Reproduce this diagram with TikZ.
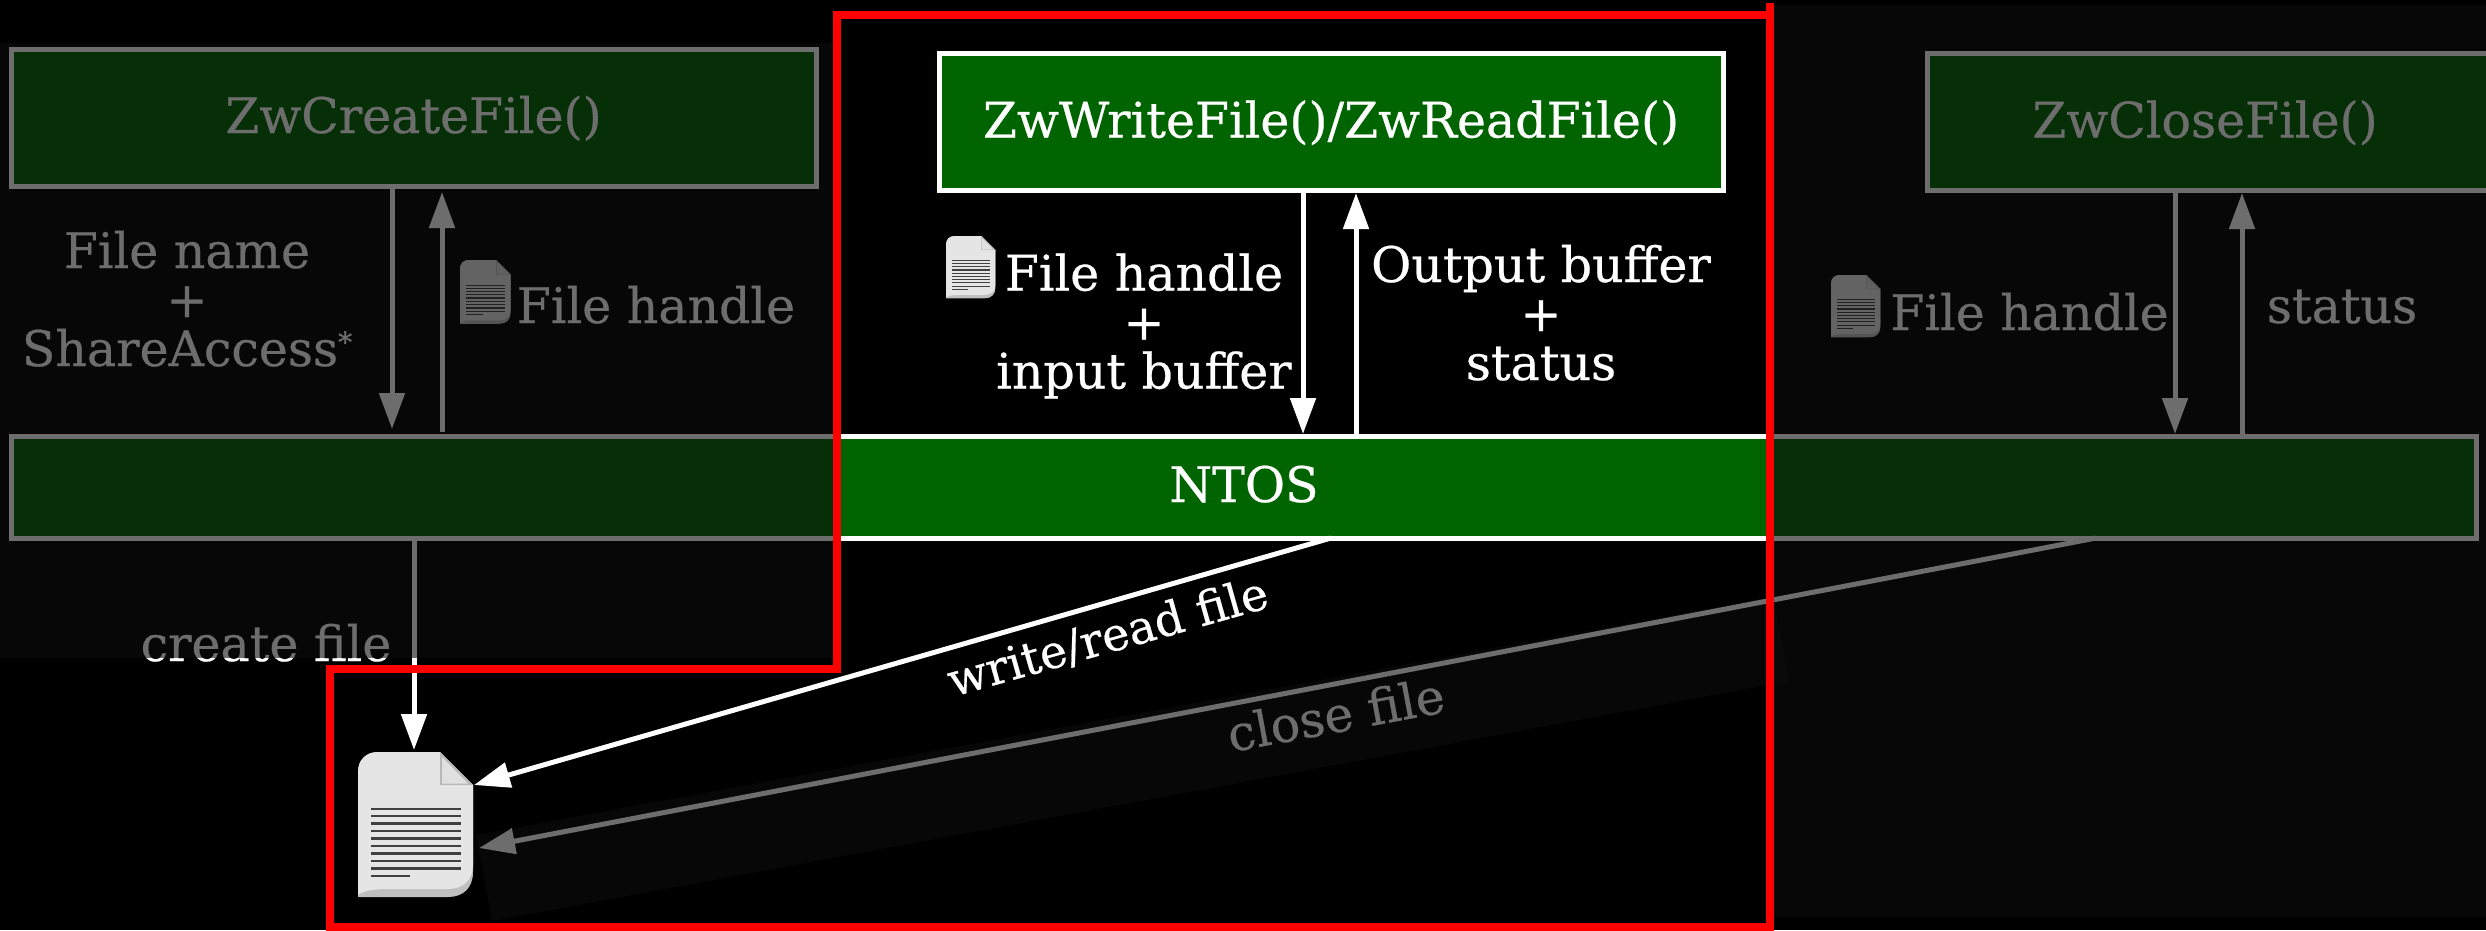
\documentclass[tikz,border=0pt]{standalone}
\usepackage{fontspec}
\setmainfont[FakeBold=0.5]{DejaVu Serif}
\usetikzlibrary{arrows.meta,calc}
\definecolor{nsgreen}{HTML}{006400}
\definecolor{veil}{HTML}{0D0D0D}
\definecolor{redframe}{HTML}{FF0000}
\tikzset{
  big/.style={font=\fontsize{49}{49}\selectfont\addfontfeature{FakeBold=0.5}},
  box/.style={draw=white,fill=nsgreen,line width=5pt,inner sep=0pt,outer sep=0pt,text=white,big,text height=42pt,text depth=11pt,anchor=north west},
  lbl/.style={text=white,big,inner sep=0pt,outer sep=0pt,anchor=base},
  multi/.style={lbl,align=center},
  flow/.style={draw=white,line width=5pt,-{Triangle[length=36pt,width=25pt,sep=0pt]}},
  overlay panel/.style={fill=veil,fill opacity=.6,draw=none},
}
\newcommand{\fileicon}[3]{%
  \begin{scope}[shift={(#1,#2)},scale=#3]
    \fill[black!25] (0,20) .. controls (0,8) and (8,0) .. (20,0) -- (82,0) -- (115,33) -- (115,120)
       .. controls (115,136) and (105,145) .. (90,145) -- (0,145) -- cycle;
    \fill[black!10] (0,20) .. controls (0,8) and (8,0) .. (20,0) -- (82,0) -- (115,33) -- (115,113)
       .. controls (115,128) and (105,137) .. (90,137) -- (30,137) .. controls (15,137) and (5,139) .. (0,143) -- cycle;
    \fill[black!28] (82,0) -- (115,33) -- (82,33) -- cycle;
    \fill[black!12] (84,5) -- (110,31.5) -- (84,31.5) -- cycle;
    \foreach \ly in {57,64,71.5,79,86.5,94,101.5,109,116.5}{
      \fill[black!75] (13,\ly-1.3) rectangle (103,\ly+1.3);
    }
    \fill[black!75] (13,122.7) rectangle (52,125.3);
  \end{scope}}
\begin{document}
\begin{tikzpicture}[x=1pt,y=-1pt]
  \useasboundingbox (0,0) rectangle (2486,930);
  \fill[black] (0,0) rectangle (2486,930);

  % boxes
  \node[box,minimum width=805pt,minimum height=137pt] (create) at (11,49) {ZwCreateFile()};
  \node[box,minimum width=784pt,minimum height=137pt] (rw) at (939,53.5) {ZwWriteFile()/ZwReadFile()};
  \node[box,minimum width=566pt,minimum height=137pt] (close) at (1927,53.5) {\hspace*{-10pt}ZwCloseFile()};
  \node[box,minimum width=2465pt,minimum height=102pt] (bus) at (11,436) {};
  \node[lbl] (ntoslabel) at (1244,502) {NTOS};

  % x positions and file end points
  \coordinate (xa) at (392,0);
  \coordinate (xb) at (442,0);
  \coordinate (xc) at (1303,0);
  \coordinate (xd) at (1356,0);
  \coordinate (xe) at (2175,0);
  \coordinate (xf) at (2242,0);
  \coordinate (xg) at (414,0);
  \coordinate (xh) at (1331,0);
  \coordinate (xi) at (2096,0);
  \coordinate (filetop) at (414,750);
  \coordinate (filefold) at (474,785);
  \coordinate (fileside) at (479,848);

  % connectors
  \draw[flow,shorten >=7pt] (create.south -| xa) -- (bus.north -| xa);
  \draw[flow,shorten <=4pt,shorten >=6pt] (bus.north -| xb) -- (create.south -| xb);
  \draw[flow,shorten >=2pt] (rw.south -| xc) -- (bus.north -| xc);
  \draw[flow,shorten >=2.5pt] (bus.north -| xd) -- (rw.south -| xd);
  \draw[flow,shorten >=2pt] (close.south -| xe) -- (bus.north -| xe);
  \draw[flow,shorten >=2.5pt] (bus.north -| xf) -- (close.south -| xf);
  \draw[flow] (bus.south -| xg) -- (filetop);
  \draw[flow] (bus.south -| xh) -- (filefold);
  \draw[flow] (bus.south -| xi) -- (fileside);

  % labels
  \node[multi] (lname) at (187,366) {File name\\+\\ShareAccess\raisebox{14pt}{\fontsize{28}{28}\selectfont *}};
  \node[lbl] (lhandle) at (656,323) {File handle};
  \node[multi] (mhandle) at (1144,388.5) {File handle\\+\\input buffer};
  \node[multi] (moutput) at (1541,380) {Output buffer\\+\\status};
  \node[lbl] (rhandle) at (2029.5,330) {File handle};
  \node[lbl] (rstatus) at (2342,323) {status};
  \node[lbl] (lcreate) at (266,661) {create file};
  \node[lbl,font=\fontsize{46}{49}\selectfont,rotate=15.8] (lwrite) at (1112,652) {write/read file};
  \node[lbl,rotate=10.6] (lclose) at (1339,732) {close file};

  % file icons
  \fileicon{358}{752}{1}
  \fileicon{946}{236}{.43}
  \fileicon{460}{260}{.44}
  \fileicon{1831}{275}{.43}

  % dimming veils
  \fill[overlay panel] (0,43) rectangle (837,658);
  \fill[overlay panel] (1770,5) rectangle (2486,917);
  \fill[overlay panel] (476,835) -- (1773,597) -- (1789,681) -- (492,921) -- cycle;

  % red frame
  \draw[redframe,line width=8pt,line join=miter]
    (837,669) -- (837,15) -- (1770,15) -- (1770,927) -- (330,927) -- (330,669) -- cycle;
  \draw[redframe,line width=8pt] (1770,3) -- (1770,15);
\end{tikzpicture}
\end{document}
